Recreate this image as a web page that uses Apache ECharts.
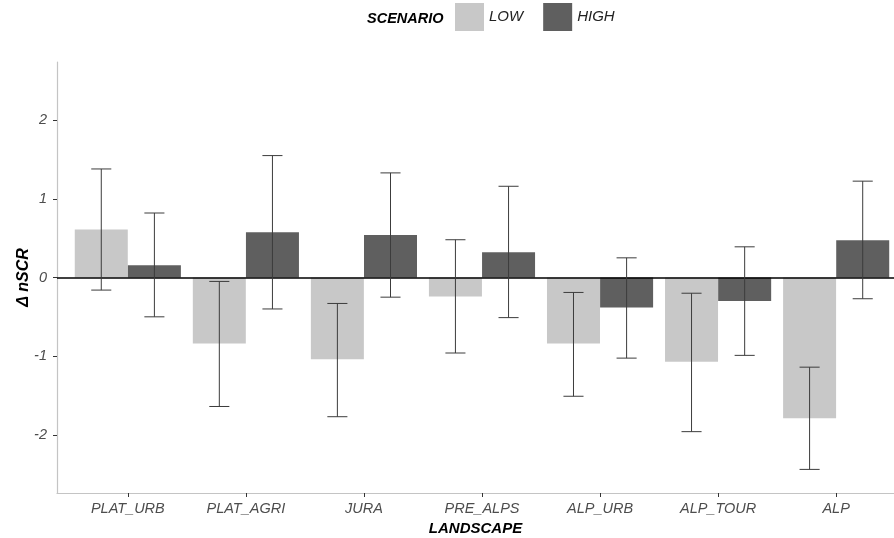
<!DOCTYPE html>
<html>
<head>
<meta charset="utf-8">
<script src="https://cdn.jsdelivr.net/npm/echarts@6/dist/echarts.min.js"></script>
<style>html,body{margin:0;padding:0;background:#fff}#c{width:894px;height:538px}</style>
</head>
<body>
<div id="c"></div>
<script>
var categories = ['PLAT_URB','PLAT_AGRI','JURA','PRE_ALPS','ALP_URB','ALP_TOUR','ALP'];
var lowMean  = [0.61, -0.84, -1.04, -0.24, -0.84, -1.07, -1.79];
var lowUpper = [1.38, -0.05, -0.33, 0.48, -0.19, -0.20, -1.14];
var lowLower = [-0.16, -1.64, -1.77, -0.96, -1.51, -1.96, -2.44];
var highMean  = [0.155, 0.575, 0.54, 0.32, -0.38, -0.30, 0.475];
var highUpper = [0.82, 1.55, 1.33, 1.16, 0.25, 0.39, 1.225];
var highLower = [-0.50, -0.40, -0.25, -0.51, -1.025, -0.99, -0.27];
var yTicks = [-2, -1, 0, 1, 2];

var dodge = 0.225;   // half of bar width in category units
var capHalf = 0.085;
var FONT = 'Liberation Sans, Arial, sans-serif';

function barData(vals, off) {
  return vals.map(function (v, i) { return [i + 1 + off, v]; });
}
var errData = [];
categories.forEach(function (c, i) {
  errData.push([i + 1 - dodge, lowLower[i], lowUpper[i]]);
  errData.push([i + 1 + dodge, highLower[i], highUpper[i]]);
});

var chart = echarts.init(document.getElementById('c'), null, {renderer: 'canvas'});
chart.setOption({
  animation: false,
  backgroundColor: '#ffffff',
  title: {
    text: 'SCENARIO', left: 367, top: 11, padding: 0,
    textStyle: {fontFamily: FONT, fontSize: 14.5, fontWeight: 'bold', fontStyle: 'italic', color: '#000'}
  },
  legend: {
    left: 455, top: 3, padding: 0, icon: 'rect', itemWidth: 29, itemHeight: 28, itemGap: 20,
    data: ['LOW', 'HIGH'],
    textStyle: {fontFamily: FONT, fontSize: 15, fontStyle: 'italic', color: '#222'}
  },
  grid: {left: 57, right: 0, top: 62, bottom: 45, outerBoundsMode: 'none', containLabel: false},
  xAxis: {
    type: 'value', min: 0.4, max: 7.49,
    name: 'LANDSCAPE', nameLocation: 'middle', nameGap: 28, nameMoveOverlap: false,
    nameTextStyle: {fontFamily: FONT, fontSize: 15, fontWeight: 'bold', fontStyle: 'italic', color: '#000'},
    axisLine: {show: true, onZero: false, lineStyle: {color: '#c4c4c4', width: 1.2}},
    axisTick: {show: true, length: 4, lineStyle: {color: '#333'}, customValues: [1,2,3,4,5,6,7]},
    axisLabel: {
      customValues: [1,2,3,4,5,6,7], margin: 8,
      fontFamily: FONT, fontSize: 14.5, fontStyle: 'italic', color: '#4d4d4d',
      formatter: function (v) { return categories[Math.round(v) - 1] || ''; }
    },
    splitLine: {show: false}
  },
  yAxis: {
    type: 'value', min: -2.74, max: 2.74,
    name: 'Δ nSCR', nameLocation: 'middle', nameGap: 25, nameRotate: 90, nameMoveOverlap: false,
    nameTextStyle: {fontFamily: FONT, fontSize: 16, fontWeight: 'bold', fontStyle: 'italic', color: '#000'},
    axisLine: {show: true, onZero: false, lineStyle: {color: '#c4c4c4', width: 1.2}},
    axisTick: {show: true, length: 4, lineStyle: {color: '#333'}, customValues: yTicks},
    axisLabel: {
      customValues: yTicks, margin: 10,
      fontFamily: FONT, fontSize: 14.5, fontStyle: 'italic', color: '#4d4d4d'
    },
    splitLine: {show: false}
  },
  series: [
    {
      name: 'LOW', type: 'bar', data: barData(lowMean, -dodge),
      barWidth: 53, barGap: '-100%',
      itemStyle: {color: '#c8c8c8'}, z: 2
    },
    {
      name: 'HIGH', type: 'bar', data: barData(highMean, dodge),
      barWidth: 53, barGap: '-100%',
      itemStyle: {color: '#5f5f5f'}, z: 2
    },
    {
      name: 'err', type: 'custom', z: 5,
      data: errData,
      renderItem: function (params, api) {
        var x = api.value(0), lo = api.value(1), hi = api.value(2);
        var pTop = api.coord([x, hi]), pBot = api.coord([x, lo]);
        var l1 = api.coord([x - capHalf, hi]), r1 = api.coord([x + capHalf, hi]);
        var l2 = api.coord([x - capHalf, lo]), r2 = api.coord([x + capHalf, lo]);
        var st = {stroke: '#3c3c3c', lineWidth: 1};
        return {
          type: 'group',
          children: [
            {type: 'line', shape: {x1: pTop[0], y1: pTop[1], x2: pBot[0], y2: pBot[1]}, style: st},
            {type: 'line', shape: {x1: l1[0], y1: l1[1], x2: r1[0], y2: r1[1]}, style: st},
            {type: 'line', shape: {x1: l2[0], y1: l2[1], x2: r2[0], y2: r2[1]}, style: st}
          ]
        };
      },
      markLine: {
        silent: true, symbol: ['none', 'none'], label: {show: false},
        lineStyle: {color: '#000', width: 1.6, type: 'solid'},
        data: [{yAxis: 0}]
      }
    }
  ]
});
</script>
</body>
</html>
